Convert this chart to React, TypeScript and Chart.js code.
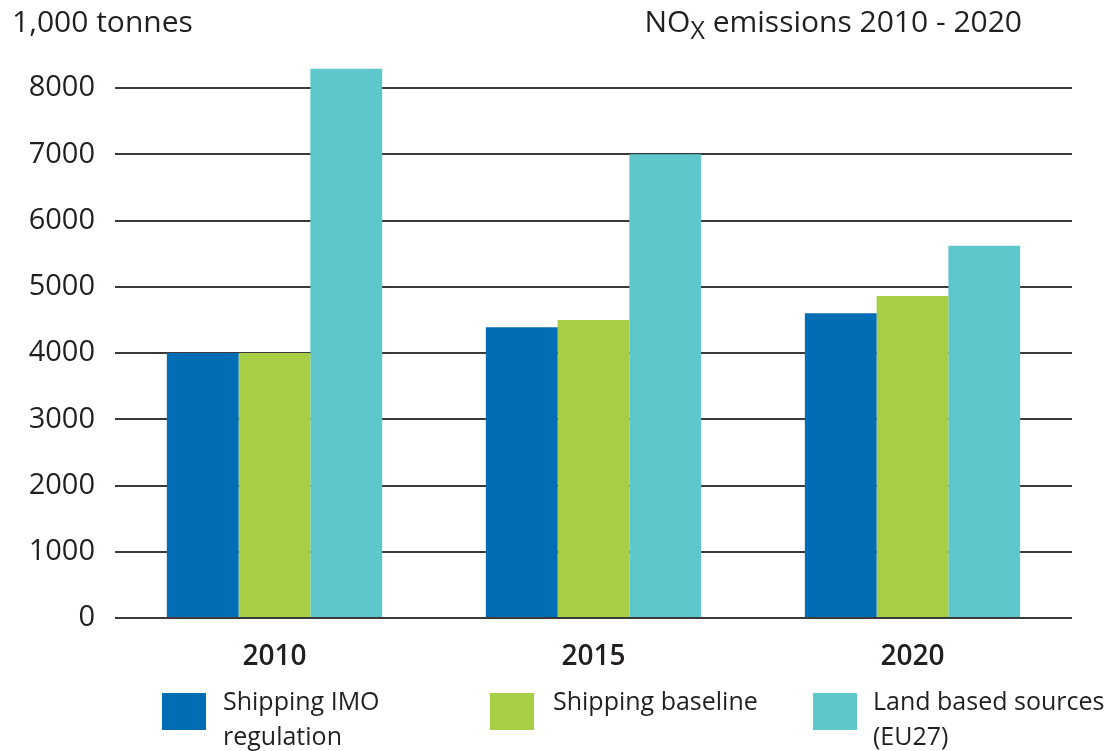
import React, { useEffect, useRef } from "react";
import { Chart, registerables } from "chart.js";

Chart.register(...registerables);

const categories = ["2010", "2015", "2020"];
const imoValues = [4000, 4390, 4600];
const baselineValues = [4000, 4500, 4860];
const landValues = [8290, 7000, 5620];
const yTickValues = [0, 1000, 2000, 3000, 4000, 5000, 6000, 7000, 8000];

const seriesLabels = ["Shipping IMO regulation", "Shipping baseline", "Land based sources (EU27)"];
const colors = ["#006db5", "#a7ce44", "#5ec7cc"];

const FONT = "'Open Sans', sans-serif";
const TEXT = "#231f20";

export default function App() {
  const ref = useRef<HTMLCanvasElement | null>(null);

  useEffect(() => {
    if (!ref.current) return;
    const chart = new Chart(ref.current, {
      type: "bar",
      data: {
        labels: categories,
        datasets: [
          { label: seriesLabels[0], data: imoValues, backgroundColor: colors[0] },
          { label: seriesLabels[1], data: baselineValues, backgroundColor: colors[1] },
          { label: seriesLabels[2], data: landValues, backgroundColor: colors[2] },
        ],
      },
      options: {
        animation: false,
        responsive: false,
        maintainAspectRatio: false,
        layout: { padding: { top: 61.5, right: 34, left: 0, bottom: 0 } },
        datasets: { bar: { categoryPercentage: 0.675, barPercentage: 1, borderWidth: 0 } },
        plugins: { legend: { display: false }, tooltip: { enabled: false }, title: { display: false } },
        scales: {
          x: {
            grid: { display: false, drawTicks: false },
            border: { display: false },
            ticks: { color: TEXT, font: { family: FONT, size: 28, weight: 600 }, padding: 22 },
            afterFit: (s: any) => { s.height = 133; },
          },
          y: {
            min: 0,
            max: 8400,
            afterBuildTicks: (s: any) => { s.ticks = yTickValues.map((v) => ({ value: v })); },
            afterFit: (s: any) => { s.width = 115; },
            grid: { color: "#3a3a3a", lineWidth: 2, drawTicks: false },
            border: { display: false },
            ticks: { color: TEXT, font: { family: FONT, size: 29, weight: 500 }, padding: 20, callback: (v: any) => String(v) },
          },
        },
      },
    });
    return () => chart.destroy();
  }, []);

  const legendItems = [
    { x: 162, w: 44, tx: 223, lines: ["Shipping IMO", "regulation"] },
    { x: 490, w: 44, tx: 553, lines: ["Shipping baseline"] },
    { x: 813, w: 44, tx: 873, lines: ["Land based sources", "(EU27)"] },
  ];

  return (
    <div style={{ position: "absolute", left: 0, top: 0, width: 1106, height: 751, background: "#fff", fontFamily: FONT, color: TEXT }}>
      <canvas ref={ref} width={1106} height={751} style={{ position: "absolute", left: 0, top: 0 }} />
      <div style={{ position: "absolute", left: 12, top: 1, fontSize: 30, fontWeight: 500, lineHeight: "40px", whiteSpace: "nowrap" }}>1,000 tonnes</div>
      <div style={{ position: "absolute", right: 84, top: 1, fontSize: 30, fontWeight: 500, lineHeight: "40px", whiteSpace: "nowrap" }}>
        NO<span style={{ fontSize: 25, position: "relative", top: 7 }}>X</span> emissions 2010 - 2020
      </div>
      {legendItems.map((it, i) => (
        <React.Fragment key={i}>
          <div style={{ position: "absolute", left: it.x, top: 693, width: it.w, height: 37, background: colors[i] }} />
          <div style={{ position: "absolute", left: it.tx, top: 683, fontSize: 25, lineHeight: "35px", whiteSpace: "nowrap" }}>
            {it.lines.map((l, j) => (<div key={j}>{l}</div>))}
          </div>
        </React.Fragment>
      ))}
    </div>
  );
}
